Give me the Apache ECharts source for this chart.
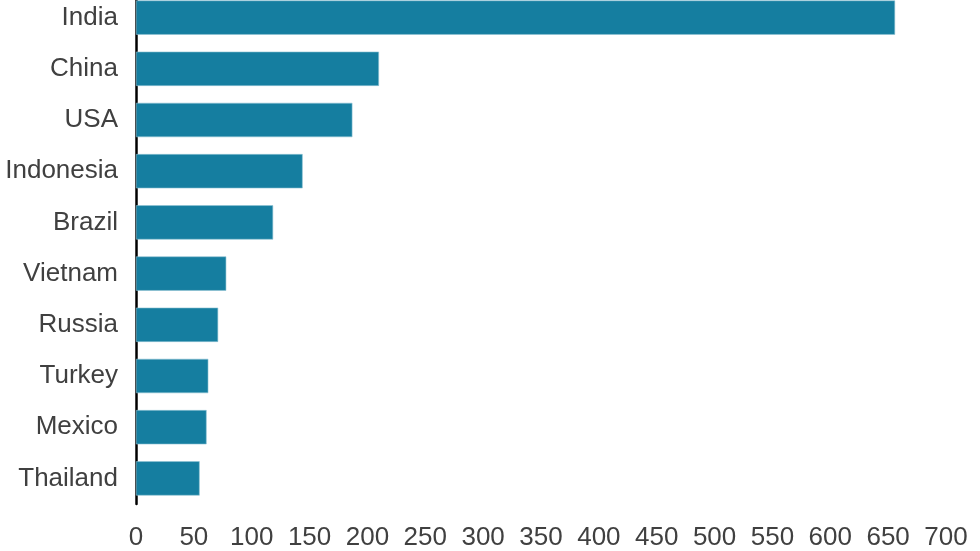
<!DOCTYPE html>
<html>
<head>
<meta charset="utf-8">
<script src="https://cdn.jsdelivr.net/npm/echarts@6/dist/echarts.min.js"></script>
<style>html,body{margin:0;padding:0;background:#fff;overflow:hidden}#c{width:980px;height:559px;margin-top:-8px}</style>
</head>
<body>
<div id="c"></div>
<script>
const countries = ["India","China","USA","Indonesia","Brazil","Vietnam","Russia","Turkey","Mexico","Thailand"];
const values = [656, 210, 187, 144, 118.5, 78, 71, 62.5, 61, 55];
const xTicks = [0,50,100,150,200,250,300,350,400,450,500,550,600,650,700];

const chart = echarts.init(document.getElementById('c'), null, {renderer:'canvas'});
chart.setOption({
  animation: false,
  backgroundColor: '#fff',
  grid: {left: 136, right: 34, top: 0, bottom: 46, containLabel: false},
  xAxis: {
    type: 'value', min: xTicks[0], max: xTicks[xTicks.length-1], interval: 50,
    axisLine: {show: false}, axisTick: {show: false}, splitLine: {show: false},
    axisLabel: {color: '#404040', fontSize: 26, fontFamily: 'Liberation Sans, Arial, sans-serif', margin: 21}
  },
  yAxis: {
    type: 'category', data: countries, inverse: true,
    axisLine: {show: true, lineStyle: {color: '#000', width: 2.5}},
    axisTick: {show: false},
    axisLabel: {color: '#404040', fontSize: 26, fontFamily: 'Liberation Sans, Arial, sans-serif', margin: 18}
  },
  series: [{
    type: 'bar', data: values, barCategoryGap: '33%',
    itemStyle: {color: '#157ea0', borderColor: '#8fc3d4', borderWidth: 0.6}
  }]
});
</script>
</body>
</html>
